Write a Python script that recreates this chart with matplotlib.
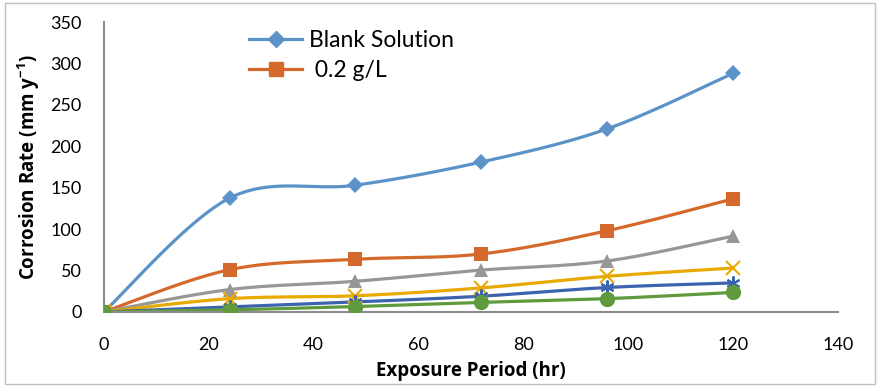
import numpy as np
import matplotlib.pyplot as plt
from matplotlib.patches import Rectangle

plt.rcParams['font.family'] = ['Lato', 'DejaVu Sans']

hours = [0, 24, 48, 72, 96, 120]
blank = [0, 137.5, 153, 181, 221, 288]
c_02 = [0, 51, 63.5, 70, 98, 136.5]
c_04 = [0, 27, 37, 50.5, 61.5, 91.5]
c_06 = [0, 16, 19.5, 29, 43, 53]
c_08 = [0, 6, 12, 19, 29.5, 35]
c_10 = [0, 2.5, 6.5, 11.5, 16, 23.5]

series = [
    (blank, 'Blank Solution', '#5b93c9', 'D', 8),
    (c_02, ' 0.2 g/L', '#d5692b', 's', 10),
    (c_04, None, '#979797', '^', 10),
    (c_06, None, '#e8aa00', 'x', 10),
    (c_08, None, '#3c63ad', (6, 2, 0), 10),
    (c_10, None, '#5f9b3c', 'o', 11),
]


def smooth(x, y, n=40):
    # excel-like smoothed line (catmull-rom bezier)
    p = np.column_stack([x, y]).astype(float)
    p = np.vstack([p[0], p, p[-1]])
    t = np.linspace(0, 1, n)[:, None]
    pts = []
    for i in range(1, len(p) - 2):
        p0, p1, p2, p3 = p[i - 1], p[i], p[i + 1], p[i + 2]
        c1 = p1 + (p2 - p0) / 6
        c2 = p2 - (p3 - p1) / 6
        seg = ((1 - t) ** 3) * p1 + 3 * ((1 - t) ** 2) * t * c1 + 3 * (1 - t) * t ** 2 * c2 + t ** 3 * p2
        pts.append(seg)
    pts = np.vstack(pts)
    return pts[:, 0], pts[:, 1]


fig = plt.figure(figsize=(8.8, 3.87), dpi=100)
fig.patches.append(Rectangle((0.006, 0.008), 0.988, 0.984, transform=fig.transFigure,
                             fill=False, edgecolor='#bfbfbf', linewidth=1))
ax = fig.add_axes([0.118, 0.194, 0.834, 0.749])

for vals, lab, col, mk, ms in series:
    sx, sy = smooth(hours, vals)
    ax.plot(sx, sy, color=col, linewidth=2.3, zorder=2)
    mew = 1.5 if mk in ('x', (6, 2, 0)) else 0
    ax.plot(hours, vals, linestyle='none', marker=mk, markersize=ms, color=col,
            markeredgewidth=mew, zorder=3)
    if lab:
        ax.plot([], [], color=col, linewidth=2.3, marker=mk, markersize=ms, label=lab)

ax.set_xlim(0, 140)
ax.set_ylim(0, 350)
ax.set_xticks(range(0, 141, 20))
ax.set_yticks(range(0, 351, 50))
ax.tick_params(length=0, labelsize=13, colors='black')
ax.tick_params(axis='y', pad=16)
ax.tick_params(axis='x', pad=18)
for s in ['top', 'right']:
    ax.spines[s].set_visible(False)
for s in ['left', 'bottom']:
    ax.spines[s].set_color('#8c8c8c')
    ax.spines[s].set_linewidth(1.5)

lab_font = dict(family=['Open Sans', 'DejaVu Sans'], fontsize=13.5, fontweight='bold')
ax.set_xlabel('Exposure Period (hr)', labelpad=6, **lab_font)
ax.set_ylabel('Corrosion Rate (mm y$^{\\mathregular{-1}}$)', labelpad=6, **lab_font)

ax.legend(loc='upper left', bbox_to_anchor=(0.17, 1.045), frameon=False, fontsize=16.5,
          handlelength=2.3, labelspacing=0.4, handletextpad=0.3)

fig.savefig('out.png', dpi=100)
